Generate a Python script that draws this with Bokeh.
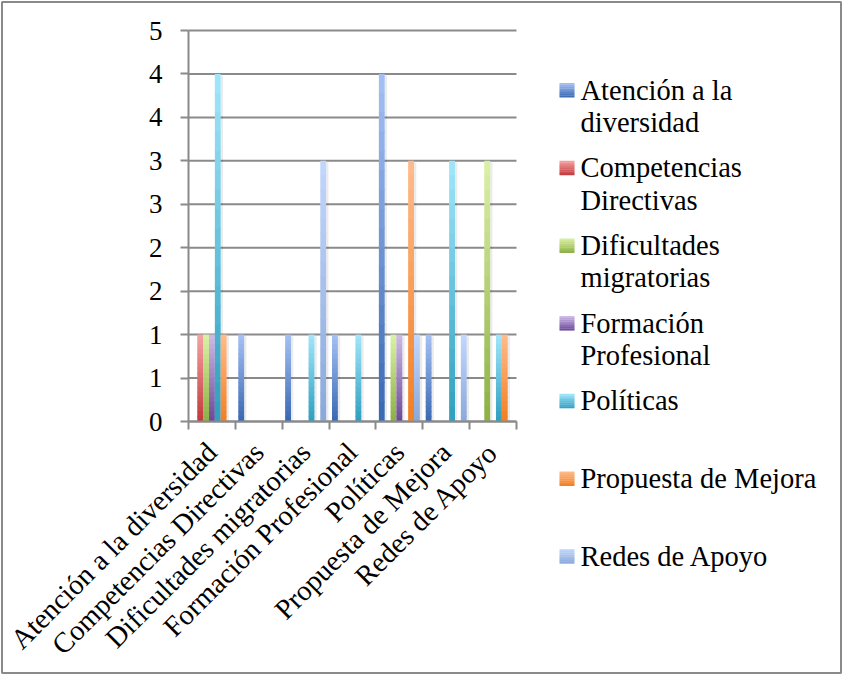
import math
from bokeh.plotting import figure
from bokeh.models import Range1d, FixedTicker, ColumnDataSource, LinearAxis
from bokeh.embed import file_html
from bokeh.resources import INLINE
from bokeh.core.properties import value

# ---------------- data ----------------
categories = ["Atención a la diversidad", "Competencias Directivas",
              "Dificultades migratorias", "Formación Profesional",
              "Políticas", "Propuesta de Mejora", "Redes de Apoyo"]
legend_labels = ["Atención a la\ndiversidad", "Competencias\nDirectivas",
                 "Dificultades\nmigratorias", "Formación\nProfesional",
                 "Políticas", "Propuesta de Mejora", "Redes de Apoyo"]
atencion = [0, 1, 1, 1, 4, 1, 0]
competencias = [1, 0, 0, 0, 0, 0, 0]
dificultades = [1, 0, 0, 0, 1, 0, 3]
formacion = [1, 0, 0, 0, 1, 0, 0]
politicas = [4, 0, 1, 1, 0, 3, 1]
propuesta = [1, 0, 0, 0, 3, 0, 1]
redes = [0, 0, 3, 0, 1, 1, 0]
y_ticks = [0, 0.5, 1, 1.5, 2, 2.5, 3, 3.5, 4, 4.5]
y_tick_labels = ["0", "1", "1", "2", "2", "3", "3", "4", "4", "5"]
y_max = 4.5

series_values = [atencion, competencias, dificultades, formacion, politicas, propuesta, redes]
# (top light, bottom dark)
series_colors = [("#A6C2F4", "#3867B2"), ("#F7A3A3", "#C0383A"), ("#DBF1A6", "#8CAF45"),
                 ("#CEBBE7", "#6A4897"), ("#A2E6FA", "#2E9EBF"), ("#FFBC8C", "#F27E22"),
                 ("#C3D7FC", "#8AA8DA")]

FONT_NAME = "Liberation Serif"
FONT = value(FONT_NAME)
FS = "28.5px"
FS_Y = "27px"
GRAY = "#8a8a8a"


def hex2rgb(h):
    h = h.lstrip("#")
    return tuple(int(h[i:i + 2], 16) for i in (0, 2, 4))


def mix(c_top, c_bot, t):
    a, b = hex2rgb(c_top), hex2rgb(c_bot)
    return "#%02x%02x%02x" % tuple(int(round(b[i] + (a[i] - b[i]) * t)) for i in range(3))


N = 18
n_cat = len(categories)
n_series = len(series_values)
slot = 0.125

# ---------------- bars (gradient slices) ----------------
bar = dict(left=[], right=[], bottom=[], top=[], color=[])
shadow = dict(left=[], right=[], bottom=[], top=[])
for s, vals in enumerate(series_values):
    top_c, bot_c = series_colors[s]
    for c, v in enumerate(vals):
        if v <= 0:
            continue
        xc = c + 0.5 + (s - (n_series - 1) / 2) * slot
        l, r = xc - slot / 2, xc + slot / 2
        shadow["left"].append(r)
        shadow["right"].append(r + 0.05)
        shadow["bottom"].append(0)
        shadow["top"].append(v - 0.02)
        for k in range(N):
            b = v * k / N
            t = v * (k + 1) / N + (0.01 if k < N - 1 else 0)
            bar["left"].append(l)
            bar["right"].append(r)
            bar["bottom"].append(b)
            bar["top"].append(t)
            bar["color"].append(mix(top_c, bot_c, (k + 0.5) / N))

# ---------------- figure: frame = whole canvas, axes fixed inside ----------------
W, H = 842, 674
PL, PR, PT, PB = 188, 516, 30, 421          # plot area edges in pixels
sx = (PR - PL) / n_cat
sy = (PB - PT) / y_max
x_range = Range1d(-PL / sx, n_cat + (W - PR) / sx)
y_range = Range1d(-(H - PB) / sy, y_max + PT / sy)

p = figure(width=W, height=H, x_range=x_range, y_range=y_range,
           output_backend="svg", toolbar_location=None,
           x_axis_location=None, y_axis_location=None,
           min_border=0, min_border_left=0, min_border_right=0,
           min_border_top=0, min_border_bottom=0)
p.outline_line_color = None
p.background_fill_color = "white"
p.border_fill_color = "white"
p.grid.visible = False
p.extra_x_ranges = {"px": Range1d(0, W)}
p.extra_y_ranges = {"py": Range1d(H, 0)}

# horizontal gridlines of the plot area
p.segment(x0=[0] * len(y_ticks), x1=[n_cat] * len(y_ticks), y0=y_ticks, y1=y_ticks,
          line_color=GRAY, line_width=2)

p.quad(source=ColumnDataSource(shadow), left="left", right="right", bottom="bottom", top="top",
       fill_color="black", fill_alpha=0.08, line_color=None)
p.quad(source=ColumnDataSource(bar), left="left", right="right", bottom="bottom", top="top",
       fill_color="color", line_color=None)

# y axis
ya = LinearAxis(fixed_location=0, bounds=(0, y_max))
ya.ticker = FixedTicker(ticks=y_ticks)
ya.major_label_overrides = {t: lab for t, lab in zip(y_ticks, y_tick_labels)}
ya.axis_line_color = GRAY
ya.axis_line_width = 2
ya.major_tick_line_color = GRAY
ya.major_tick_line_width = 2
ya.major_tick_out = 8
ya.major_tick_in = 0
ya.minor_tick_line_color = None
ya.major_label_standoff = 18
ya.major_label_text_font = FONT_NAME
ya.major_label_text_font_size = FS_Y
ya.major_label_text_color = "black"
p.add_layout(ya, "left")

# x axis: labels at category centres, ticks at boundaries
centers = [i + 0.5 for i in range(n_cat)]
bounds = [float(i) for i in range(n_cat + 1)]
xa = LinearAxis(fixed_location=0, bounds=(0, n_cat))
xa.ticker = FixedTicker(ticks=centers, minor_ticks=bounds)
xa.major_label_overrides = {c: lab for c, lab in zip(centers, categories)}
xa.major_label_orientation = math.pi / 4
xa.axis_line_color = GRAY
xa.axis_line_width = 2
xa.major_tick_line_color = None
xa.major_tick_out = 0
xa.major_tick_in = 0
xa.minor_tick_line_color = GRAY
xa.minor_tick_line_width = 2
xa.minor_tick_out = 8
xa.minor_tick_in = 0
xa.major_label_standoff = 18
xa.major_label_text_font = FONT_NAME
xa.major_label_text_font_size = FS
xa.major_label_text_color = "black"
p.add_layout(xa, "below")

# ---------------- legend (pixel coordinates) ----------------
first_line_y = 89.5
item_step = 77.7
line_step = 32.3
tx, ty, tt = [], [], []
sq = dict(left=[], right=[], bottom=[], top=[], color=[])
M = 8
for i, lab in enumerate(legend_labels):
    base = first_line_y + i * item_step
    for j, line in enumerate(lab.split("\n")):
        tx.append(580)
        ty.append(base + j * line_step)
        tt.append(line)
    top_c, bot_c = series_colors[i]
    y_top, y_bot = base - 7, base + 7.5
    for k in range(M):
        yb = y_bot - (y_bot - y_top) * k / M
        yt = y_bot - (y_bot - y_top) * (k + 1) / M - (0.3 if k < M - 1 else 0)
        sq["left"].append(559)
        sq["right"].append(574)
        sq["bottom"].append(yb)
        sq["top"].append(yt)
        sq["color"].append(mix(top_c, bot_c, (k + 0.5) / M))

p.quad(source=ColumnDataSource(sq), left="left", right="right", bottom="bottom", top="top",
       fill_color="color", line_color=None, x_range_name="px", y_range_name="py")
p.text(x=tx, y=ty, text=tt, text_font=FONT, text_font_size=FS,
       text_baseline="alphabetic", text_align="left", text_color="black",
       x_range_name="px", y_range_name="py")

# outer chart border
p.quad(left=[1.5], right=[W - 1.5], top=[1.5], bottom=[H - 1.5],
       fill_color=None, line_color=GRAY, line_width=2, x_range_name="px", y_range_name="py")

open("out.html", "w").write(file_html(p, INLINE))
